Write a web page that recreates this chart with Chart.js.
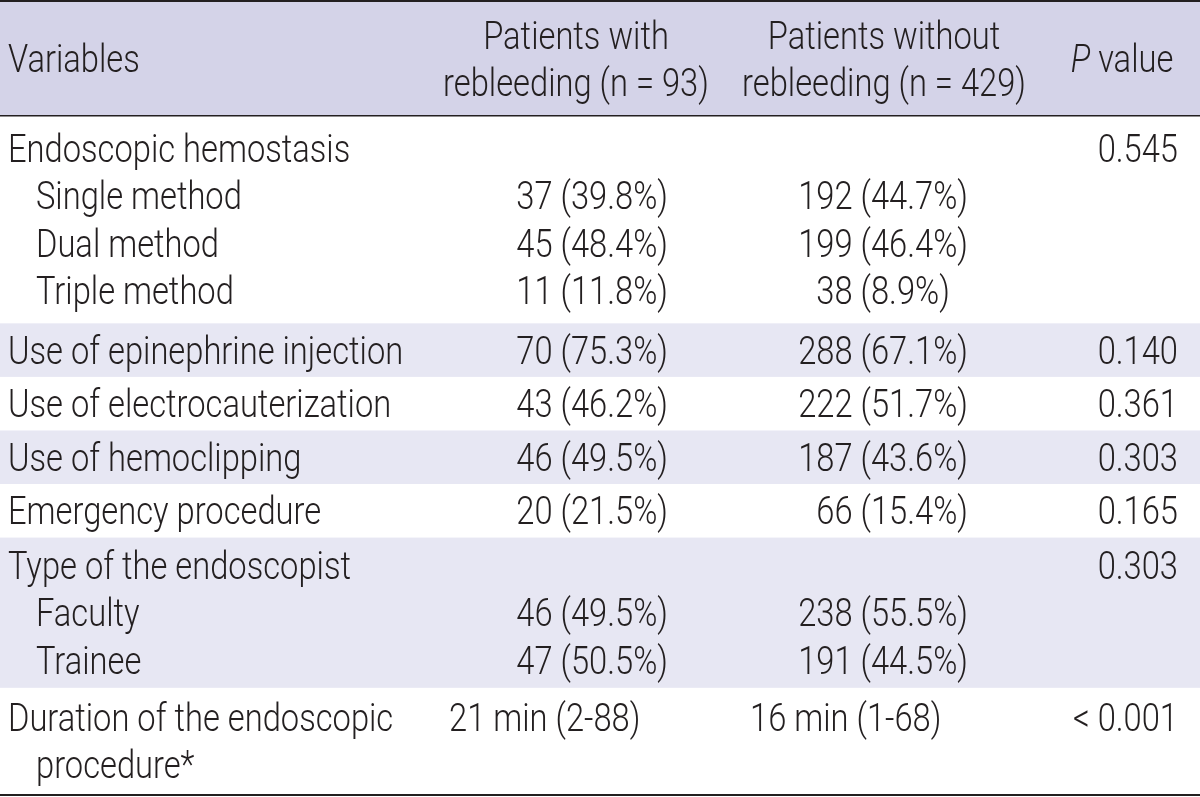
<!DOCTYPE html>
<html>
<head>
<meta charset="utf-8">
<script src="https://cdn.jsdelivr.net/npm/chart.js@4.4.0/dist/chart.umd.min.js"></script>
<style>
    html, body { margin: 0; padding: 0; background: #ffffff; }
    #wrap { width: 1200px; height: 797px; }
</style>
</head>
<body>
<div id="wrap"><canvas id="tabela" width="1200" height="797"></canvas></div>
<script>
// ---- dados da tabela ----
const headerVariables = 'Variables';
const headerWith = ['Patients with', 'rebleeding (n = 93)'];
const headerWithout = ['Patients without', 'rebleeding (n = 429)'];
const headerP = ['P', ' value'];

const variables = [
    ['Endoscopic hemostasis', 'Single method', 'Dual method', 'Triple method'],
    ['Use of epinephrine injection'],
    ['Use of electrocauterization'],
    ['Use of hemoclipping'],
    ['Emergency procedure'],
    ['Type of the endoscopist', 'Faculty', 'Trainee'],
    ['Duration of the endoscopic', 'procedure*']
];
const withRebleeding = [
    [null, '37 (39.8%)', '45 (48.4%)', '11 (11.8%)'],
    ['70 (75.3%)'],
    ['43 (46.2%)'],
    ['46 (49.5%)'],
    ['20 (21.5%)'],
    [null, '46 (49.5%)', '47 (50.5%)'],
    ['21 min (2-88)', null]
];
const withoutRebleeding = [
    [null, '192 (44.7%)', '199 (46.4%)', '38 (8.9%)\u2007'],
    ['288 (67.1%)'],
    ['222 (51.7%)'],
    ['187 (43.6%)'],
    ['66 (15.4%)'],
    [null, '238 (55.5%)', '191 (44.5%)'],
    ['16 min (1-68)', null]
];
const pValues = ['0.545', '0.140', '0.361', '0.303', '0.165', '0.303', '< 0.001'];

// ---- layout ----
const FONT = 'Roboto, "Liberation Sans", sans-serif';
const FONT_SIZE = 38;
const FONT_WEIGHT = 300;
const SCALE_X = 0.86;   // aperta a fonte na horizontal (original é condensada)
const INK = '#231f20';
const HEADER_BG = '#d4d3e8';
const STRIPE_BG = '#e7e7f3';
const HEADER_LINES = 2;
const HEADER_PAD = 0.4;
const rowPad = [0.38, 0.13, 0.13, 0.13, 0.13, 0.17, 0.24];
const X_LABEL = 8, X_INDENT = 36;
const X_WITH = 668, X_WITH_LEFT = 449;
const X_WITHOUT = 968, X_WITHOUT_LEFT = 750;
const X_P = 1178;
const X_HEAD_WITH = 576, X_HEAD_WITHOUT = 884, X_HEAD_P = 1122;

// limites das linhas em unidades de "linha de texto"
const headerEnd = HEADER_LINES + HEADER_PAD;
const rowTop = [];
let acumulado = headerEnd;
variables.forEach((linhas, i) => {
    rowTop.push(acumulado);
    acumulado += linhas.length + rowPad[i];
});
const totalUnits = acumulado;

function centroLinha(i, j) {
    return rowTop[i] + rowPad[i] / 2 + j + 0.5;
}

// monta as células como pontos (x, y) para o chart
const celulasHeader = [
    { x: X_LABEL, y: headerEnd / 2, t: headerVariables, align: 'left' },
    { x: X_HEAD_WITH, y: HEADER_PAD / 2 + 0.5, t: headerWith[0], align: 'center' },
    { x: X_HEAD_WITH, y: HEADER_PAD / 2 + 1.5, t: headerWith[1], align: 'center' },
    { x: X_HEAD_WITHOUT, y: HEADER_PAD / 2 + 0.5, t: headerWithout[0], align: 'center' },
    { x: X_HEAD_WITHOUT, y: HEADER_PAD / 2 + 1.5, t: headerWithout[1], align: 'center' },
    { x: X_HEAD_P, y: headerEnd / 2, t: headerP, align: 'center', italico: true }
];
const celulasVariaveis = [];
const celulasCom = [];
const celulasSem = [];
const celulasP = [];
variables.forEach((linhas, i) => {
    linhas.forEach((txt, j) => {
        celulasVariaveis.push({ x: j > 0 ? X_INDENT : X_LABEL, y: centroLinha(i, j), t: txt, align: 'left' });
        const com = withRebleeding[i][j];
        if (com) {
            const minutos = com.includes('min');
            celulasCom.push({ x: minutos ? X_WITH_LEFT : X_WITH, y: centroLinha(i, j), t: com, align: minutos ? 'left' : 'right' });
        }
        const sem = withoutRebleeding[i][j];
        if (sem) {
            const minutos = sem.includes('min');
            celulasSem.push({ x: minutos ? X_WITHOUT_LEFT : X_WITHOUT, y: centroLinha(i, j), t: sem, align: minutos ? 'left' : 'right' });
        }
    });
    celulasP.push({ x: X_P, y: centroLinha(i, 0), t: pValues[i], align: 'right' });
});

function escreve(ctx, txt, px, py, align) {
    ctx.save();
    ctx.translate(px, py);
    ctx.scale(SCALE_X, 1);
    ctx.textAlign = align;
    ctx.fillText(txt, 0, 0);
    ctx.restore();
}

const desenhaTabela = {
    id: 'desenhaTabela',
    beforeDatasetsDraw(chart) {
        const { ctx, chartArea, scales: { y } } = chart;
        const esq = chartArea.left, dir = chartArea.right;
        ctx.save();
        // faixa do cabeçalho
        ctx.fillStyle = HEADER_BG;
        ctx.fillRect(esq, y.getPixelForValue(0), dir - esq, y.getPixelForValue(headerEnd) - y.getPixelForValue(0));
        // linhas alternadas
        ctx.fillStyle = STRIPE_BG;
        variables.forEach((linhas, i) => {
            if (i % 2 === 1) {
                const topo = y.getPixelForValue(rowTop[i]);
                const base = y.getPixelForValue(rowTop[i] + linhas.length + rowPad[i]);
                ctx.fillRect(esq, topo, dir - esq, base - topo);
            }
        });
        // réguas
        ctx.strokeStyle = INK;
        ctx.lineWidth = 2;
        const topo = y.getPixelForValue(0) - 1;
        const fim = y.getPixelForValue(totalUnits) + 1;
        [topo, fim].forEach(py => {
            ctx.beginPath(); ctx.moveTo(esq, py); ctx.lineTo(dir, py); ctx.stroke();
        });
        ctx.lineWidth = 1.6;
        const meio = y.getPixelForValue(headerEnd);
        ctx.beginPath(); ctx.moveTo(esq, meio); ctx.lineTo(dir, meio); ctx.stroke();
        ctx.restore();
    },
    afterDatasetsDraw(chart) {
        const { ctx } = chart;
        const fonte = `${FONT_WEIGHT} ${FONT_SIZE}px ${FONT}`;
        const fonteItalica = `italic ${FONT_WEIGHT} ${FONT_SIZE}px ${FONT}`;
        const desceBase = FONT_SIZE * 0.355;
        ctx.save();
        ctx.fillStyle = INK;
        ctx.textBaseline = 'alphabetic';
        chart.data.datasets.forEach((ds, d) => {
            const meta = chart.getDatasetMeta(d);
            meta.data.forEach((pt, k) => {
                const cel = ds.data[k];
                const py = pt.y + desceBase;
                if (cel.italico) {
                    ctx.font = fonteItalica;
                    const w1 = ctx.measureText(cel.t[0]).width * SCALE_X;
                    ctx.font = fonte;
                    const w2 = ctx.measureText(cel.t[1]).width * SCALE_X;
                    const px = pt.x - (w1 + w2) / 2;
                    ctx.font = fonteItalica;
                    escreve(ctx, cel.t[0], px, py, 'left');
                    ctx.font = fonte;
                    escreve(ctx, cel.t[1], px + w1, py, 'left');
                    return;
                }
                ctx.font = fonte;
                let txt = cel.t;
                let px = pt.x;
                if (txt.endsWith('\u2007')) {
                    txt = txt.slice(0, -1);
                    px -= ctx.measureText('0').width * SCALE_X;
                }
                escreve(ctx, txt, px, py, cel.align);
            });
        });
        ctx.restore();
    }
};

const pontoInvisivel = { showLine: false, pointRadius: 0, pointHoverRadius: 0, borderWidth: 0 };

new Chart(document.getElementById('tabela').getContext('2d'), {
    type: 'scatter',
    data: {
        datasets: [
            { label: 'header', data: celulasHeader, ...pontoInvisivel },
            { label: 'Variables', data: celulasVariaveis, ...pontoInvisivel },
            { label: 'Patients with rebleeding', data: celulasCom, ...pontoInvisivel },
            { label: 'Patients without rebleeding', data: celulasSem, ...pontoInvisivel },
            { label: 'P value', data: celulasP, ...pontoInvisivel }
        ]
    },
    options: {
        responsive: false,
        animation: false,
        devicePixelRatio: 1,
        events: [],
        layout: { padding: { top: 2, bottom: 3, left: 0, right: 0 } },
        plugins: { legend: { display: false }, tooltip: { enabled: false } },
        scales: {
            x: { type: 'linear', min: 0, max: 1200, display: false },
            y: { type: 'linear', min: 0, max: totalUnits, reverse: true, display: false }
        }
    },
    plugins: [desenhaTabela]
});
</script>
</body>
</html>
